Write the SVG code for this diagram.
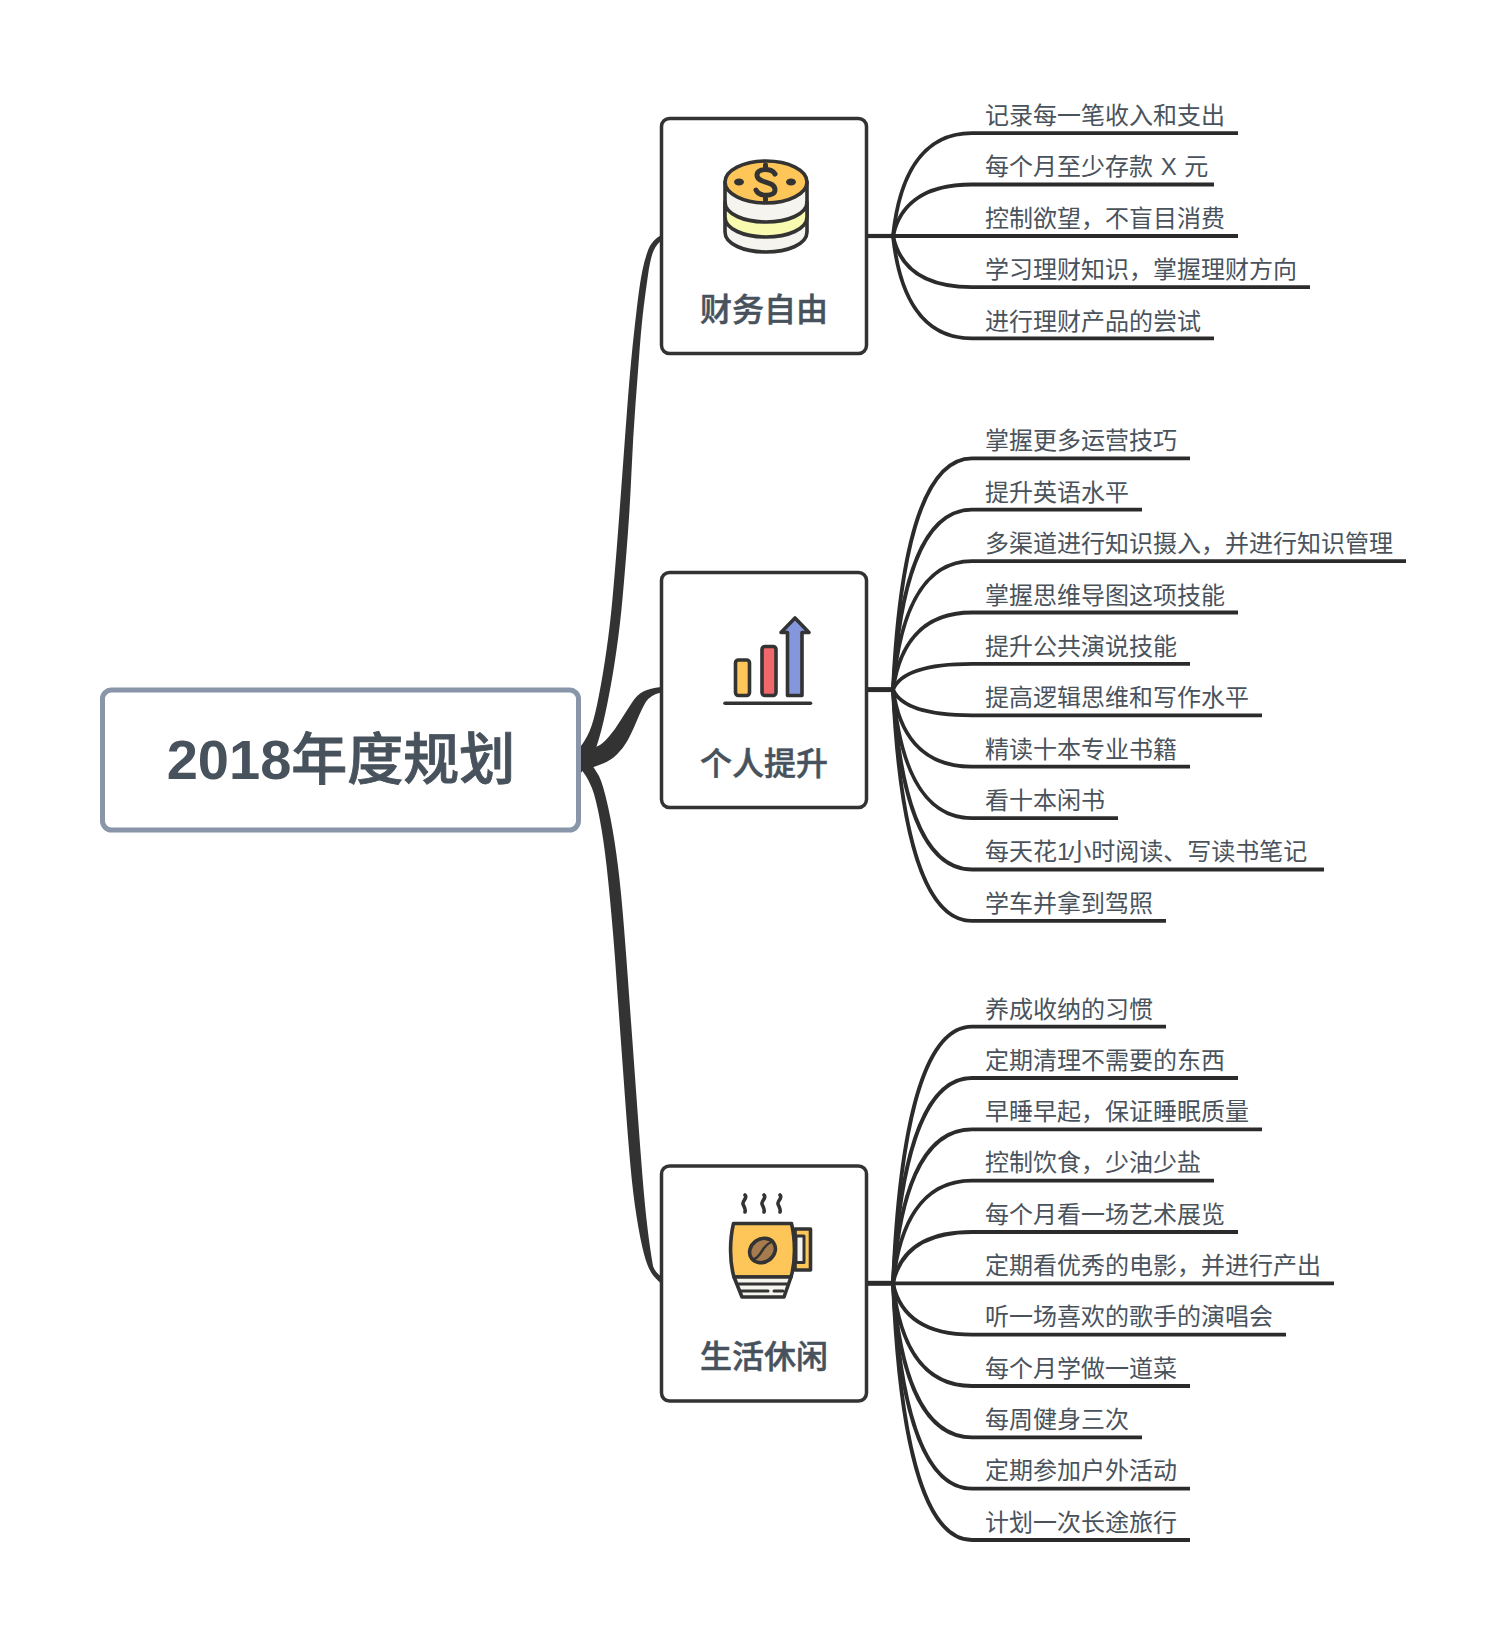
<svg xmlns="http://www.w3.org/2000/svg" width="1506" height="1642" viewBox="0 0 1506 1642">
<style>
text{font-family:"Liberation Sans","Noto Sans CJK SC",sans-serif;fill:#4a535c}
.leaf{font-size:24px}
.topic{font-size:32px;font-weight:500;text-anchor:middle;fill:#47525c;stroke:#47525c;stroke-width:.5}
.root{font-size:56px;font-weight:700;text-anchor:middle;fill:#47525c}
.box{fill:#fff;stroke:#333;stroke-width:3.5}
.c{fill:none;stroke:#2b2b2b;stroke-width:3.8}
.m{fill:#333}
.i{stroke:#333;stroke-width:3.6;stroke-linejoin:round;stroke-linecap:round;fill:none}
</style>
<rect width="1506" height="1642" fill="#fff"/>
<g id="connectors">
<path class="m" d="M579 750L581 746Q588 736.500 591.500 726Q595 716 599 695Q603 674.500 606.500 650Q610 626 612.500 598.500Q615 571 617.500 538.500Q620 506 622.500 471.500Q625 437 627.500 404Q630 371.500 632.500 347Q635 323 637.500 302.500Q640 282 642.500 270Q645 258 648.500 249Q651.700 240.700 661 235V240.700Q655 246 652.500 253.500Q650 261 648 275Q646 289 643.800 306Q641.700 323 639.800 347Q638 371.500 635.500 404Q633 437 631.500 471.500Q630 506 627.500 538.500Q625 571 622.500 598.500Q620 626 616.500 650Q613 674.500 609 695Q605 716 601.500 729.500Q598 743 592 760L579 775Z"/>
<path class="m" d="M579 752L590 748.500Q596.700 747 600 745Q603 743.400 609 736.500Q615 729.700 620.800 720Q626.700 710.700 631.700 703Q636.700 695 643.300 691.600Q650 688.300 661 687V692.400Q650 695 645.800 702Q641.700 709 636.700 721Q631.700 733 627.300 741Q623 748.600 617.300 754Q611.700 760 603 763.500Q595 766.700 579 772Z"/>
<path class="m" d="M579 768L581.700 770Q590 780.700 594 794Q598 808 601.500 829Q605 849.500 608.300 882Q611.700 915 615 958Q618 1001 620.500 1035.500Q623 1070 625.500 1104.500Q628 1139 630.500 1166.500Q633 1194 636.500 1216Q640 1238.600 644 1254Q648 1269.600 654 1276.500Q657 1280 661 1283.400V1276.500Q655 1272 653 1266Q650 1249 647.500 1228Q645 1207.700 642.500 1176.700Q640 1145.700 637.500 1111Q635 1076.800 632.500 1042Q630 1008 627.500 973.500Q625 939 622.500 909.700Q620 880.500 616.500 855Q613 829 608 806.500Q603 784 599 776Q595 768.600 588 760L579 752Z"/>
<path class="c" style="stroke-width:4.200" d="M867 236H893"/>
<path class="c" style="stroke-width:5" d="M867 689.600H893"/>
<path class="c" style="stroke-width:5" d="M867 1283.300H893"/>
<path class="c" d="M893 236C899 179.500 920 133.200 972 133.200H1238"/>
<path class="c" d="M893 236C899 207.800 920 184.500 972 184.500H1214"/>
<path class="c" d="M893 236H1238"/>
<path class="c" d="M893 236C899 264.200 920 287.100 972 287.100H1310"/>
<path class="c" d="M893 236C899 292.500 920 338.400 972 338.400H1214"/>
<path class="c" d="M893 689.600C899 562.400 920 458.300 972 458.300H1190"/>
<path class="c" d="M893 689.600C899 590.700 920 509.700 972 509.700H1142"/>
<path class="c" d="M893 689.600C899 618.900 920 561.100 972 561.100H1406"/>
<path class="c" d="M893 689.600C899 647.200 920 612.500 972 612.500H1238"/>
<path class="c" d="M893 689.600C899 675.500 920 663.900 972 663.900H1190"/>
<path class="c" d="M893 689.600C899 703.700 920 715.300 972 715.300H1262"/>
<path class="c" d="M893 689.600C899 732 920 766.700 972 766.700H1190"/>
<path class="c" d="M893 689.600C899 760.300 920 818.100 972 818.100H1118"/>
<path class="c" d="M893 689.600C899 788.500 920 869.500 972 869.500H1324"/>
<path class="c" d="M893 689.600C899 816.800 920 920.900 972 920.900H1166"/>
<path class="c" d="M893 1283.300C899 1142.100 920 1026.600 972 1026.600H1166"/>
<path class="c" d="M893 1283.300C899 1170.400 920 1078 972 1078H1238"/>
<path class="c" d="M893 1283.300C899 1198.600 920 1129.300 972 1129.300H1262"/>
<path class="c" d="M893 1283.300C899 1226.800 920 1180.600 972 1180.600H1214"/>
<path class="c" d="M893 1283.300C899 1255.100 920 1232 972 1232H1238"/>
<path class="c" d="M893 1283.300H1334"/>
<path class="c" d="M893 1283.300C899 1311.500 920 1334.600 972 1334.600H1286"/>
<path class="c" d="M893 1283.300C899 1339.800 920 1386 972 1386H1190"/>
<path class="c" d="M893 1283.300C899 1368 920 1437.300 972 1437.300H1142"/>
<path class="c" d="M893 1283.300C899 1396.200 920 1488.600 972 1488.600H1190"/>
<path class="c" d="M893 1283.300C899 1424.500 920 1540 972 1540H1190"/>
</g>
<g id="root">
<rect x="102.500" y="690" width="476" height="140" rx="9" fill="#fff" stroke="#8996a9" stroke-width="5"/>
<text class="root" x="341" y="779">2018<tspan font-family="Noto Sans CJK SC" font-weight="500" stroke="#47525c" stroke-width=".8">年度规划</tspan></text>
</g>
<g id="topic-1">
<rect class="box" x="661.500" y="118.500" width="205" height="235" rx="8"/>
<path class="i" d="M725 182V232C725 244 744 252 766 252C788 252 807 244 807 232V182Z" style="fill:#f5f4ef"/>
<path class="i" style="fill:#f8fab0" d="M725 202C725 214 744 222 766 222C788 222 807 214 807 202V217C807 229 788 237 766 237C744 237 725 229 725 217Z"/>
<ellipse class="i" style="fill:#fec658" cx="766" cy="182" rx="41" ry="21"/>
<ellipse cx="739" cy="182" rx="5" ry="3.500" fill="#333"/><ellipse cx="791" cy="182" rx="5" ry="3.500" fill="#333"/>
<path class="i" style="stroke-width:5" d="M775 174C771 168 757 168 757 175C757 184 775 180 775 190C775 197 759 197 756 190M765.500 165V168M765.500 197V200"/>
<text class="topic" x="764" y="321">财务自由</text>
</g>
<g id="topic-2">
<rect class="box" x="661.500" y="572.500" width="205" height="235" rx="8"/>
<rect class="i" style="fill:#fec658" x="735.500" y="660" width="14" height="35.500" rx="3"/>
<rect class="i" style="fill:#f0686c" x="762" y="646.500" width="14" height="49" rx="3"/>
<path class="i" style="fill:#8497dc" d="M795 618L809 632.500H802V695.500H787.500V632.500H781Z"/>
<path class="i" d="M725 703.300H810.500"/>
<text class="topic" x="764" y="775">个人提升</text>
</g>
<g id="topic-3">
<rect class="box" x="661.500" y="1166" width="205" height="235" rx="8"/>
<path class="i" style="fill:#fec658" d="M795 1229H810.500V1270H795Z"/>
<path class="i" style="fill:#f5f4ef;stroke-width:3" d="M796 1236H804V1262.500H796Z"/>
<path class="i" style="fill:#fec658" d="M733.500 1223.500H791.500C795.500 1240 795.500 1262 791 1277H734C729.500 1262 729.500 1240 733.500 1223.500Z"/>
<path class="i" style="fill:#f5f4ef" d="M734 1277H791L784 1297H742Z"/>
<path class="i" style="stroke-width:3" d="M738 1284H787M741 1291H768M774 1291H783"/>
<ellipse class="i" style="fill:#a67c4e" cx="762.500" cy="1250.500" rx="13.500" ry="11.500" transform="rotate(-35 762.500 1250.500)"/>
<path class="i" style="stroke-width:2.500" d="M754 1259C762 1256 761 1247 771 1242"/>
<path class="i" d="M745 1195C748 1198 742 1201 743 1204C744 1207 746 1209 745 1212M764 1195C767 1198 761 1201 762 1204C763 1207 765 1209 764 1212M780 1195C783 1198 777 1201 778 1204C779 1207 781 1209 780 1212"/>
<text class="topic" x="764" y="1368">生活休闲</text>
</g>
<g id="leaves-1">
<g id="leaf-1-1"><text class="leaf" x="985" y="123.500">记录每一笔收入和支出</text></g>
<g id="leaf-1-2"><text class="leaf" x="985" y="175" word-spacing="1">每个月至少存款 X 元</text></g>
<g id="leaf-1-3"><text class="leaf" x="985" y="226.500">控制欲望，不盲目消费</text></g>
<g id="leaf-1-4"><text class="leaf" x="985" y="277.500">学习理财知识，掌握理财方向</text></g>
<g id="leaf-1-5"><text class="leaf" x="985" y="329.500">进行理财产品的尝试</text></g>
</g>
<g id="leaves-2">
<g id="leaf-2-1"><text class="leaf" x="985" y="449">掌握更多运营技巧</text></g>
<g id="leaf-2-2"><text class="leaf" x="985" y="500.500">提升英语水平</text></g>
<g id="leaf-2-3"><text class="leaf" x="985" y="551.500">多渠道进行知识摄入，并进行知识管理</text></g>
<g id="leaf-2-4"><text class="leaf" x="985" y="603.500">掌握思维导图这项技能</text></g>
<g id="leaf-2-5"><text class="leaf" x="985" y="654.500">提升公共演说技能</text></g>
<g id="leaf-2-6"><text class="leaf" x="985" y="705.500">提高逻辑思维和写作水平</text></g>
<g id="leaf-2-7"><text class="leaf" x="985" y="757.500">精读十本专业书籍</text></g>
<g id="leaf-2-8"><text class="leaf" x="985" y="808.500">看十本闲书</text></g>
<g id="leaf-2-9"><text class="leaf" x="985" y="859.500">每天花1<tspan dx="-3">小时阅读、写读书笔记</tspan></text></g>
<g id="leaf-2-10"><text class="leaf" x="985" y="911.500">学车并拿到驾照</text></g>
</g>
<g id="leaves-3">
<g id="leaf-3-1"><text class="leaf" x="985" y="1017.500">养成收纳的习惯</text></g>
<g id="leaf-3-2"><text class="leaf" x="985" y="1068.500">定期清理不需要的东西</text></g>
<g id="leaf-3-3"><text class="leaf" x="985" y="1119.500">早睡早起，保证睡眠质量</text></g>
<g id="leaf-3-4"><text class="leaf" x="985" y="1171">控制饮食，少油少盐</text></g>
<g id="leaf-3-5"><text class="leaf" x="985" y="1222.500">每个月看一场艺术展览</text></g>
<g id="leaf-3-6"><text class="leaf" x="985" y="1273.500">定期看优秀的电影，并进行产出</text></g>
<g id="leaf-3-7"><text class="leaf" x="985" y="1325">听一场喜欢的歌手的演唱会</text></g>
<g id="leaf-3-8"><text class="leaf" x="985" y="1376.500">每个月学做一道菜</text></g>
<g id="leaf-3-9"><text class="leaf" x="985" y="1427.500">每周健身三次</text></g>
<g id="leaf-3-10"><text class="leaf" x="985" y="1479">定期参加户外活动</text></g>
<g id="leaf-3-11"><text class="leaf" x="985" y="1530.500">计划一次长途旅行</text></g>
</g>
</svg>
